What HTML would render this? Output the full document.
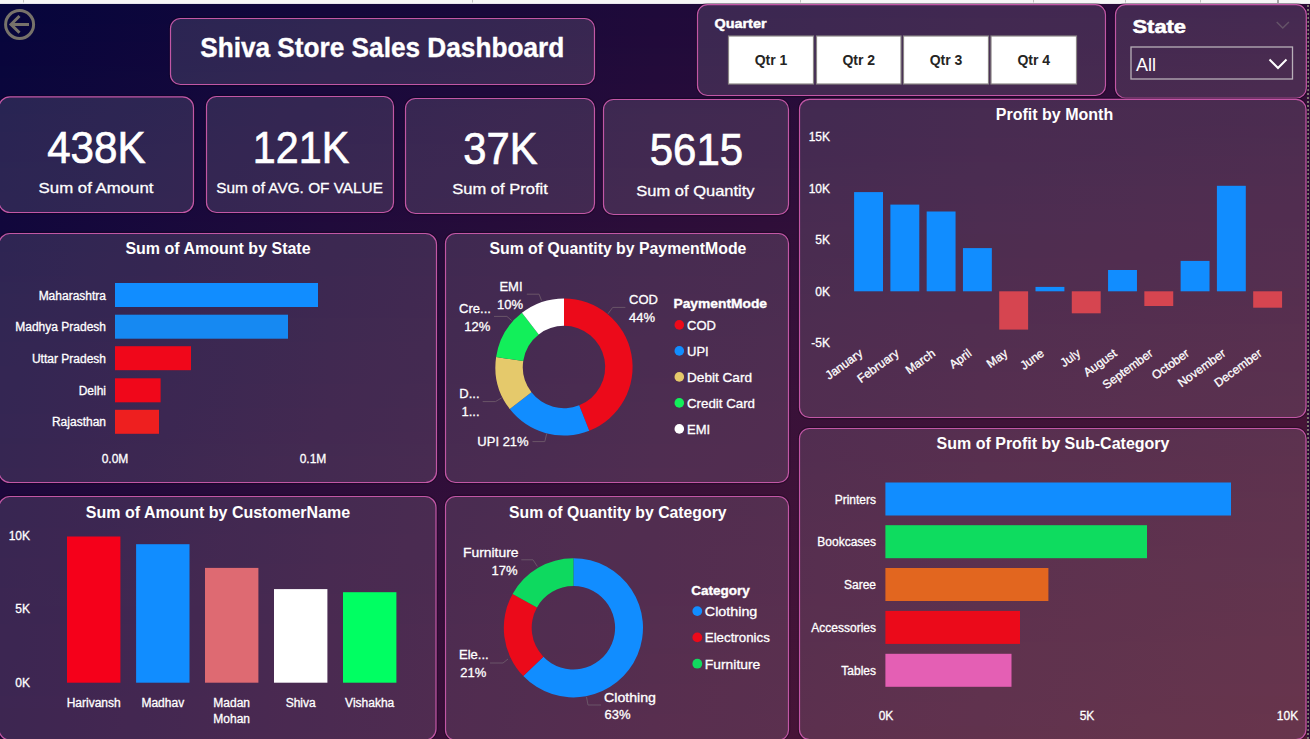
<!DOCTYPE html><html><head><meta charset="utf-8"><style>
html,body{margin:0;padding:0;width:1310px;height:739px;overflow:hidden;background:#1a0838;}
svg{display:block;font-family:"Liberation Sans", sans-serif;}
</style></head><body>
<svg width="1310" height="739" viewBox="0 0 1310 739">
<defs>
<linearGradient id="b0" x1="0" y1="0" x2="1310" y2="0" gradientUnits="userSpaceOnUse"><stop offset="0.000" stop-color="#05053c"/><stop offset="0.250" stop-color="#13073b"/><stop offset="0.500" stop-color="#1e0a3a"/><stop offset="0.750" stop-color="#270b39"/><stop offset="1.000" stop-color="#2c0c39"/></linearGradient>
<linearGradient id="b1" x1="0" y1="0" x2="1310" y2="0" gradientUnits="userSpaceOnUse"><stop offset="0.000" stop-color="#06053c"/><stop offset="0.250" stop-color="#14083b"/><stop offset="0.500" stop-color="#1f0a3a"/><stop offset="0.750" stop-color="#270b39"/><stop offset="1.000" stop-color="#2c0c39"/></linearGradient>
<linearGradient id="b2" x1="0" y1="0" x2="1310" y2="0" gradientUnits="userSpaceOnUse"><stop offset="0.000" stop-color="#06053c"/><stop offset="0.250" stop-color="#14083b"/><stop offset="0.500" stop-color="#1f0a3a"/><stop offset="0.750" stop-color="#270b39"/><stop offset="1.000" stop-color="#2d0c39"/></linearGradient>
<linearGradient id="b3" x1="0" y1="0" x2="1310" y2="0" gradientUnits="userSpaceOnUse"><stop offset="0.000" stop-color="#06053c"/><stop offset="0.250" stop-color="#14083b"/><stop offset="0.500" stop-color="#200a3a"/><stop offset="0.750" stop-color="#280c39"/><stop offset="1.000" stop-color="#2d0d39"/></linearGradient>
<linearGradient id="b4" x1="0" y1="0" x2="1310" y2="0" gradientUnits="userSpaceOnUse"><stop offset="0.000" stop-color="#07053c"/><stop offset="0.250" stop-color="#15083b"/><stop offset="0.500" stop-color="#200a3a"/><stop offset="0.750" stop-color="#280c39"/><stop offset="1.000" stop-color="#2e0d39"/></linearGradient>
<linearGradient id="b5" x1="0" y1="0" x2="1310" y2="0" gradientUnits="userSpaceOnUse"><stop offset="0.000" stop-color="#07053c"/><stop offset="0.250" stop-color="#15083b"/><stop offset="0.500" stop-color="#200a3a"/><stop offset="0.750" stop-color="#290c39"/><stop offset="1.000" stop-color="#2e0d38"/></linearGradient>
<linearGradient id="b6" x1="0" y1="0" x2="1310" y2="0" gradientUnits="userSpaceOnUse"><stop offset="0.000" stop-color="#07053c"/><stop offset="0.250" stop-color="#15083b"/><stop offset="0.500" stop-color="#210a3a"/><stop offset="0.750" stop-color="#290c39"/><stop offset="1.000" stop-color="#2f0d38"/></linearGradient>
<linearGradient id="b7" x1="0" y1="0" x2="1310" y2="0" gradientUnits="userSpaceOnUse"><stop offset="0.000" stop-color="#08053c"/><stop offset="0.250" stop-color="#16083b"/><stop offset="0.500" stop-color="#210a3a"/><stop offset="0.750" stop-color="#290c39"/><stop offset="1.000" stop-color="#2f0d38"/></linearGradient>
<linearGradient id="b8" x1="0" y1="0" x2="1310" y2="0" gradientUnits="userSpaceOnUse"><stop offset="0.000" stop-color="#08053c"/><stop offset="0.250" stop-color="#16083b"/><stop offset="0.500" stop-color="#210b3a"/><stop offset="0.750" stop-color="#2a0c39"/><stop offset="1.000" stop-color="#2f0d38"/></linearGradient>
<linearGradient id="b9" x1="0" y1="0" x2="1310" y2="0" gradientUnits="userSpaceOnUse"><stop offset="0.000" stop-color="#08053c"/><stop offset="0.250" stop-color="#17083b"/><stop offset="0.500" stop-color="#220b3a"/><stop offset="0.750" stop-color="#2a0c39"/><stop offset="1.000" stop-color="#300e38"/></linearGradient>
<linearGradient id="b10" x1="0" y1="0" x2="1310" y2="0" gradientUnits="userSpaceOnUse"><stop offset="0.000" stop-color="#09053c"/><stop offset="0.250" stop-color="#17083b"/><stop offset="0.500" stop-color="#220b3a"/><stop offset="0.750" stop-color="#2b0c39"/><stop offset="1.000" stop-color="#300e38"/></linearGradient>
<linearGradient id="b11" x1="0" y1="0" x2="1310" y2="0" gradientUnits="userSpaceOnUse"><stop offset="0.000" stop-color="#09063c"/><stop offset="0.250" stop-color="#17083b"/><stop offset="0.500" stop-color="#230b3a"/><stop offset="0.750" stop-color="#2b0d39"/><stop offset="1.000" stop-color="#310e38"/></linearGradient>
<linearGradient id="b12" x1="0" y1="0" x2="1310" y2="0" gradientUnits="userSpaceOnUse"><stop offset="0.000" stop-color="#09063c"/><stop offset="0.250" stop-color="#18093b"/><stop offset="0.500" stop-color="#230b3a"/><stop offset="0.750" stop-color="#2b0d39"/><stop offset="1.000" stop-color="#310e38"/></linearGradient>
<linearGradient id="b13" x1="0" y1="0" x2="1310" y2="0" gradientUnits="userSpaceOnUse"><stop offset="0.000" stop-color="#0a063c"/><stop offset="0.250" stop-color="#18093b"/><stop offset="0.500" stop-color="#230b3a"/><stop offset="0.750" stop-color="#2c0d39"/><stop offset="1.000" stop-color="#310e38"/></linearGradient>
<linearGradient id="b14" x1="0" y1="0" x2="1310" y2="0" gradientUnits="userSpaceOnUse"><stop offset="0.000" stop-color="#0a063c"/><stop offset="0.250" stop-color="#18093b"/><stop offset="0.500" stop-color="#240b3a"/><stop offset="0.750" stop-color="#2c0d39"/><stop offset="1.000" stop-color="#320e38"/></linearGradient>
<linearGradient id="b15" x1="0" y1="0" x2="1310" y2="0" gradientUnits="userSpaceOnUse"><stop offset="0.000" stop-color="#0a063c"/><stop offset="0.250" stop-color="#19093b"/><stop offset="0.500" stop-color="#240b3a"/><stop offset="0.750" stop-color="#2d0d39"/><stop offset="1.000" stop-color="#320e38"/></linearGradient>
<linearGradient id="b16" x1="0" y1="0" x2="1310" y2="0" gradientUnits="userSpaceOnUse"><stop offset="0.000" stop-color="#0b063c"/><stop offset="0.250" stop-color="#19093b"/><stop offset="0.500" stop-color="#240b3a"/><stop offset="0.750" stop-color="#2d0d39"/><stop offset="1.000" stop-color="#330f38"/></linearGradient>
<linearGradient id="b17" x1="0" y1="0" x2="1310" y2="0" gradientUnits="userSpaceOnUse"><stop offset="0.000" stop-color="#0b063c"/><stop offset="0.250" stop-color="#19093b"/><stop offset="0.500" stop-color="#250b3a"/><stop offset="0.750" stop-color="#2d0d39"/><stop offset="1.000" stop-color="#330f38"/></linearGradient>
<linearGradient id="b18" x1="0" y1="0" x2="1310" y2="0" gradientUnits="userSpaceOnUse"><stop offset="0.000" stop-color="#0b063c"/><stop offset="0.250" stop-color="#1a093b"/><stop offset="0.500" stop-color="#250c3a"/><stop offset="0.750" stop-color="#2e0e39"/><stop offset="1.000" stop-color="#340f38"/></linearGradient>
<linearGradient id="b19" x1="0" y1="0" x2="1310" y2="0" gradientUnits="userSpaceOnUse"><stop offset="0.000" stop-color="#0c063c"/><stop offset="0.250" stop-color="#1a093b"/><stop offset="0.500" stop-color="#260c3a"/><stop offset="0.750" stop-color="#2e0e39"/><stop offset="1.000" stop-color="#340f38"/></linearGradient>
<linearGradient id="b20" x1="0" y1="0" x2="1310" y2="0" gradientUnits="userSpaceOnUse"><stop offset="0.000" stop-color="#0c063c"/><stop offset="0.250" stop-color="#1a093b"/><stop offset="0.500" stop-color="#260c3a"/><stop offset="0.750" stop-color="#2f0e39"/><stop offset="1.000" stop-color="#340f38"/></linearGradient>
<linearGradient id="b21" x1="0" y1="0" x2="1310" y2="0" gradientUnits="userSpaceOnUse"><stop offset="0.000" stop-color="#0c063c"/><stop offset="0.250" stop-color="#1b093b"/><stop offset="0.500" stop-color="#260c3a"/><stop offset="0.750" stop-color="#2f0e39"/><stop offset="1.000" stop-color="#350f38"/></linearGradient>
<linearGradient id="b22" x1="0" y1="0" x2="1310" y2="0" gradientUnits="userSpaceOnUse"><stop offset="0.000" stop-color="#0d063c"/><stop offset="0.250" stop-color="#1b093b"/><stop offset="0.500" stop-color="#270c3a"/><stop offset="0.750" stop-color="#2f0e39"/><stop offset="1.000" stop-color="#350f38"/></linearGradient>
<linearGradient id="b23" x1="0" y1="0" x2="1310" y2="0" gradientUnits="userSpaceOnUse"><stop offset="0.000" stop-color="#0d063c"/><stop offset="0.250" stop-color="#1b093b"/><stop offset="0.500" stop-color="#270c3a"/><stop offset="0.750" stop-color="#300e39"/><stop offset="1.000" stop-color="#351038"/></linearGradient>
<linearGradient id="b24" x1="0" y1="0" x2="1310" y2="0" gradientUnits="userSpaceOnUse"><stop offset="0.000" stop-color="#0d063c"/><stop offset="0.250" stop-color="#1c0a3b"/><stop offset="0.500" stop-color="#270c3a"/><stop offset="0.750" stop-color="#300e39"/><stop offset="1.000" stop-color="#361038"/></linearGradient>
<linearGradient id="b25" x1="0" y1="0" x2="1310" y2="0" gradientUnits="userSpaceOnUse"><stop offset="0.000" stop-color="#0e063c"/><stop offset="0.250" stop-color="#1c0a3b"/><stop offset="0.500" stop-color="#280c3a"/><stop offset="0.750" stop-color="#300e39"/><stop offset="1.000" stop-color="#361038"/></linearGradient>
<linearGradient id="b26" x1="0" y1="0" x2="1310" y2="0" gradientUnits="userSpaceOnUse"><stop offset="0.000" stop-color="#0e063c"/><stop offset="0.250" stop-color="#1c0a3b"/><stop offset="0.500" stop-color="#280c3a"/><stop offset="0.750" stop-color="#310e39"/><stop offset="1.000" stop-color="#371038"/></linearGradient>
<linearGradient id="b27" x1="0" y1="0" x2="1310" y2="0" gradientUnits="userSpaceOnUse"><stop offset="0.000" stop-color="#0e073c"/><stop offset="0.250" stop-color="#1d0a3b"/><stop offset="0.500" stop-color="#280c3a"/><stop offset="0.750" stop-color="#310f39"/><stop offset="1.000" stop-color="#371038"/></linearGradient>
<linearGradient id="b28" x1="0" y1="0" x2="1310" y2="0" gradientUnits="userSpaceOnUse"><stop offset="0.000" stop-color="#0f073c"/><stop offset="0.250" stop-color="#1d0a3b"/><stop offset="0.500" stop-color="#290d3a"/><stop offset="0.750" stop-color="#310f39"/><stop offset="1.000" stop-color="#371038"/></linearGradient>
<linearGradient id="b29" x1="0" y1="0" x2="1310" y2="0" gradientUnits="userSpaceOnUse"><stop offset="0.000" stop-color="#0f073c"/><stop offset="0.250" stop-color="#1d0a3b"/><stop offset="0.500" stop-color="#290d3a"/><stop offset="0.750" stop-color="#320f39"/><stop offset="1.000" stop-color="#381038"/></linearGradient>
<linearGradient id="b30" x1="0" y1="0" x2="1310" y2="0" gradientUnits="userSpaceOnUse"><stop offset="0.000" stop-color="#0f073c"/><stop offset="0.250" stop-color="#1e0a3b"/><stop offset="0.500" stop-color="#290d3a"/><stop offset="0.750" stop-color="#320f39"/><stop offset="1.000" stop-color="#381138"/></linearGradient>
<linearGradient id="b31" x1="0" y1="0" x2="1310" y2="0" gradientUnits="userSpaceOnUse"><stop offset="0.000" stop-color="#0f073c"/><stop offset="0.250" stop-color="#1e0a3b"/><stop offset="0.500" stop-color="#2a0d3a"/><stop offset="0.750" stop-color="#330f39"/><stop offset="1.000" stop-color="#391138"/></linearGradient>
<linearGradient id="b32" x1="0" y1="0" x2="1310" y2="0" gradientUnits="userSpaceOnUse"><stop offset="0.000" stop-color="#10073c"/><stop offset="0.250" stop-color="#1e0a3b"/><stop offset="0.500" stop-color="#2a0d3a"/><stop offset="0.750" stop-color="#330f39"/><stop offset="1.000" stop-color="#391138"/></linearGradient>
<linearGradient id="b33" x1="0" y1="0" x2="1310" y2="0" gradientUnits="userSpaceOnUse"><stop offset="0.000" stop-color="#10073c"/><stop offset="0.250" stop-color="#1f0a3b"/><stop offset="0.500" stop-color="#2a0d39"/><stop offset="0.750" stop-color="#330f39"/><stop offset="1.000" stop-color="#391138"/></linearGradient>
<linearGradient id="b34" x1="0" y1="0" x2="1310" y2="0" gradientUnits="userSpaceOnUse"><stop offset="0.000" stop-color="#10073c"/><stop offset="0.250" stop-color="#1f0a3b"/><stop offset="0.500" stop-color="#2b0d39"/><stop offset="0.750" stop-color="#340f39"/><stop offset="1.000" stop-color="#3a1138"/></linearGradient>
<linearGradient id="b35" x1="0" y1="0" x2="1310" y2="0" gradientUnits="userSpaceOnUse"><stop offset="0.000" stop-color="#11073c"/><stop offset="0.250" stop-color="#1f0a3b"/><stop offset="0.500" stop-color="#2b0d39"/><stop offset="0.750" stop-color="#341039"/><stop offset="1.000" stop-color="#3a1138"/></linearGradient>
<linearGradient id="b36" x1="0" y1="0" x2="1310" y2="0" gradientUnits="userSpaceOnUse"><stop offset="0.000" stop-color="#11073c"/><stop offset="0.250" stop-color="#200a3b"/><stop offset="0.500" stop-color="#2b0d39"/><stop offset="0.750" stop-color="#341039"/><stop offset="1.000" stop-color="#3a1138"/></linearGradient>
<linearGradient id="b37" x1="0" y1="0" x2="1310" y2="0" gradientUnits="userSpaceOnUse"><stop offset="0.000" stop-color="#11073c"/><stop offset="0.250" stop-color="#200b3b"/><stop offset="0.500" stop-color="#2c0d39"/><stop offset="0.750" stop-color="#351039"/><stop offset="1.000" stop-color="#3b1138"/></linearGradient>
<linearGradient id="b38" x1="0" y1="0" x2="1310" y2="0" gradientUnits="userSpaceOnUse"><stop offset="0.000" stop-color="#11073c"/><stop offset="0.250" stop-color="#200b3b"/><stop offset="0.500" stop-color="#2c0e39"/><stop offset="0.750" stop-color="#351039"/><stop offset="1.000" stop-color="#3b1238"/></linearGradient>
<linearGradient id="b39" x1="0" y1="0" x2="1310" y2="0" gradientUnits="userSpaceOnUse"><stop offset="0.000" stop-color="#12073c"/><stop offset="0.250" stop-color="#200b3a"/><stop offset="0.500" stop-color="#2c0e39"/><stop offset="0.750" stop-color="#351038"/><stop offset="1.000" stop-color="#3b1238"/></linearGradient>
<linearGradient id="b40" x1="0" y1="0" x2="1310" y2="0" gradientUnits="userSpaceOnUse"><stop offset="0.000" stop-color="#12073c"/><stop offset="0.250" stop-color="#210b3a"/><stop offset="0.500" stop-color="#2d0e39"/><stop offset="0.750" stop-color="#361038"/><stop offset="1.000" stop-color="#3c1238"/></linearGradient>
<linearGradient id="b41" x1="0" y1="0" x2="1310" y2="0" gradientUnits="userSpaceOnUse"><stop offset="0.000" stop-color="#12073c"/><stop offset="0.250" stop-color="#210b3a"/><stop offset="0.500" stop-color="#2d0e39"/><stop offset="0.750" stop-color="#361038"/><stop offset="1.000" stop-color="#3c1238"/></linearGradient>
<linearGradient id="b42" x1="0" y1="0" x2="1310" y2="0" gradientUnits="userSpaceOnUse"><stop offset="0.000" stop-color="#13073c"/><stop offset="0.250" stop-color="#210b3a"/><stop offset="0.500" stop-color="#2d0e39"/><stop offset="0.750" stop-color="#361038"/><stop offset="1.000" stop-color="#3d1238"/></linearGradient>
<linearGradient id="b43" x1="0" y1="0" x2="1310" y2="0" gradientUnits="userSpaceOnUse"><stop offset="0.000" stop-color="#13073c"/><stop offset="0.250" stop-color="#220b3a"/><stop offset="0.500" stop-color="#2e0e39"/><stop offset="0.750" stop-color="#371038"/><stop offset="1.000" stop-color="#3d1238"/></linearGradient>
<linearGradient id="b44" x1="0" y1="0" x2="1310" y2="0" gradientUnits="userSpaceOnUse"><stop offset="0.000" stop-color="#13073c"/><stop offset="0.250" stop-color="#220b3a"/><stop offset="0.500" stop-color="#2e0e39"/><stop offset="0.750" stop-color="#371138"/><stop offset="1.000" stop-color="#3d1238"/></linearGradient>
<linearGradient id="b45" x1="0" y1="0" x2="1310" y2="0" gradientUnits="userSpaceOnUse"><stop offset="0.000" stop-color="#13073c"/><stop offset="0.250" stop-color="#220b3a"/><stop offset="0.500" stop-color="#2e0e39"/><stop offset="0.750" stop-color="#371138"/><stop offset="1.000" stop-color="#3e1338"/></linearGradient>
<linearGradient id="b46" x1="0" y1="0" x2="1310" y2="0" gradientUnits="userSpaceOnUse"><stop offset="0.000" stop-color="#14073c"/><stop offset="0.250" stop-color="#230b3a"/><stop offset="0.500" stop-color="#2f0e39"/><stop offset="0.750" stop-color="#381138"/><stop offset="1.000" stop-color="#3e1338"/></linearGradient>
<linearGradient id="b47" x1="0" y1="0" x2="1310" y2="0" gradientUnits="userSpaceOnUse"><stop offset="0.000" stop-color="#14083c"/><stop offset="0.250" stop-color="#230b3a"/><stop offset="0.500" stop-color="#2f0e39"/><stop offset="0.750" stop-color="#381138"/><stop offset="1.000" stop-color="#3e1338"/></linearGradient>
<linearGradient id="b48" x1="0" y1="0" x2="1310" y2="0" gradientUnits="userSpaceOnUse"><stop offset="0.000" stop-color="#14083c"/><stop offset="0.250" stop-color="#230b3a"/><stop offset="0.500" stop-color="#2f0e39"/><stop offset="0.750" stop-color="#381138"/><stop offset="1.000" stop-color="#3f1337"/></linearGradient>
<linearGradient id="b49" x1="0" y1="0" x2="1310" y2="0" gradientUnits="userSpaceOnUse"><stop offset="0.000" stop-color="#15083c"/><stop offset="0.250" stop-color="#230b3a"/><stop offset="0.500" stop-color="#300e39"/><stop offset="0.750" stop-color="#391138"/><stop offset="1.000" stop-color="#3f1337"/></linearGradient>
<linearGradient id="b50" x1="0" y1="0" x2="1310" y2="0" gradientUnits="userSpaceOnUse"><stop offset="0.000" stop-color="#15083c"/><stop offset="0.250" stop-color="#240b3a"/><stop offset="0.500" stop-color="#300f39"/><stop offset="0.750" stop-color="#391138"/><stop offset="1.000" stop-color="#3f1337"/></linearGradient>
<linearGradient id="b51" x1="0" y1="0" x2="1310" y2="0" gradientUnits="userSpaceOnUse"><stop offset="0.000" stop-color="#15083c"/><stop offset="0.250" stop-color="#240b3a"/><stop offset="0.500" stop-color="#300f39"/><stop offset="0.750" stop-color="#391138"/><stop offset="1.000" stop-color="#401337"/></linearGradient>
<linearGradient id="b52" x1="0" y1="0" x2="1310" y2="0" gradientUnits="userSpaceOnUse"><stop offset="0.000" stop-color="#15083c"/><stop offset="0.250" stop-color="#240b3a"/><stop offset="0.500" stop-color="#300f39"/><stop offset="0.750" stop-color="#3a1138"/><stop offset="1.000" stop-color="#401337"/></linearGradient>
<linearGradient id="b53" x1="0" y1="0" x2="1310" y2="0" gradientUnits="userSpaceOnUse"><stop offset="0.000" stop-color="#16083c"/><stop offset="0.250" stop-color="#250c3a"/><stop offset="0.500" stop-color="#310f39"/><stop offset="0.750" stop-color="#3a1138"/><stop offset="1.000" stop-color="#401337"/></linearGradient>
<linearGradient id="b54" x1="0" y1="0" x2="1310" y2="0" gradientUnits="userSpaceOnUse"><stop offset="0.000" stop-color="#16083c"/><stop offset="0.250" stop-color="#250c3a"/><stop offset="0.500" stop-color="#310f39"/><stop offset="0.750" stop-color="#3a1238"/><stop offset="1.000" stop-color="#411437"/></linearGradient>
<linearGradient id="b55" x1="0" y1="0" x2="1310" y2="0" gradientUnits="userSpaceOnUse"><stop offset="0.000" stop-color="#16083c"/><stop offset="0.250" stop-color="#250c3a"/><stop offset="0.500" stop-color="#310f39"/><stop offset="0.750" stop-color="#3b1238"/><stop offset="1.000" stop-color="#411437"/></linearGradient>
<linearGradient id="b56" x1="0" y1="0" x2="1310" y2="0" gradientUnits="userSpaceOnUse"><stop offset="0.000" stop-color="#16083c"/><stop offset="0.250" stop-color="#250c3a"/><stop offset="0.500" stop-color="#320f39"/><stop offset="0.750" stop-color="#3b1238"/><stop offset="1.000" stop-color="#411437"/></linearGradient>
<linearGradient id="b57" x1="0" y1="0" x2="1310" y2="0" gradientUnits="userSpaceOnUse"><stop offset="0.000" stop-color="#17083c"/><stop offset="0.250" stop-color="#260c3a"/><stop offset="0.500" stop-color="#320f39"/><stop offset="0.750" stop-color="#3b1238"/><stop offset="1.000" stop-color="#421437"/></linearGradient>
<linearGradient id="b58" x1="0" y1="0" x2="1310" y2="0" gradientUnits="userSpaceOnUse"><stop offset="0.000" stop-color="#17083c"/><stop offset="0.250" stop-color="#260c3a"/><stop offset="0.500" stop-color="#320f39"/><stop offset="0.750" stop-color="#3c1238"/><stop offset="1.000" stop-color="#421437"/></linearGradient>
<linearGradient id="b59" x1="0" y1="0" x2="1310" y2="0" gradientUnits="userSpaceOnUse"><stop offset="0.000" stop-color="#17083c"/><stop offset="0.250" stop-color="#260c3a"/><stop offset="0.500" stop-color="#320f39"/><stop offset="0.750" stop-color="#3c1238"/><stop offset="1.000" stop-color="#421437"/></linearGradient>
<linearGradient id="b60" x1="0" y1="0" x2="1310" y2="0" gradientUnits="userSpaceOnUse"><stop offset="0.000" stop-color="#17083c"/><stop offset="0.250" stop-color="#270c3a"/><stop offset="0.500" stop-color="#330f39"/><stop offset="0.750" stop-color="#3c1238"/><stop offset="1.000" stop-color="#431437"/></linearGradient>
<linearGradient id="b61" x1="0" y1="0" x2="1310" y2="0" gradientUnits="userSpaceOnUse"><stop offset="0.000" stop-color="#18083c"/><stop offset="0.250" stop-color="#270c3a"/><stop offset="0.500" stop-color="#330f39"/><stop offset="0.750" stop-color="#3c1238"/><stop offset="1.000" stop-color="#431437"/></linearGradient>
<linearGradient id="b62" x1="0" y1="0" x2="1310" y2="0" gradientUnits="userSpaceOnUse"><stop offset="0.000" stop-color="#18083c"/><stop offset="0.250" stop-color="#270c3a"/><stop offset="0.500" stop-color="#330f39"/><stop offset="0.750" stop-color="#3d1238"/><stop offset="1.000" stop-color="#431537"/></linearGradient>
<linearGradient id="b63" x1="0" y1="0" x2="1310" y2="0" gradientUnits="userSpaceOnUse"><stop offset="0.000" stop-color="#18083c"/><stop offset="0.250" stop-color="#270c3a"/><stop offset="0.500" stop-color="#340f39"/><stop offset="0.750" stop-color="#3d1238"/><stop offset="1.000" stop-color="#441537"/></linearGradient>
<linearGradient id="b64" x1="0" y1="0" x2="1310" y2="0" gradientUnits="userSpaceOnUse"><stop offset="0.000" stop-color="#18083c"/><stop offset="0.250" stop-color="#280c3a"/><stop offset="0.500" stop-color="#341039"/><stop offset="0.750" stop-color="#3d1238"/><stop offset="1.000" stop-color="#441537"/></linearGradient>
<linearGradient id="b65" x1="0" y1="0" x2="1310" y2="0" gradientUnits="userSpaceOnUse"><stop offset="0.000" stop-color="#19083c"/><stop offset="0.250" stop-color="#280c3a"/><stop offset="0.500" stop-color="#341039"/><stop offset="0.750" stop-color="#3e1338"/><stop offset="1.000" stop-color="#441537"/></linearGradient>
<linearGradient id="b66" x1="0" y1="0" x2="1310" y2="0" gradientUnits="userSpaceOnUse"><stop offset="0.000" stop-color="#19083c"/><stop offset="0.250" stop-color="#280c3a"/><stop offset="0.500" stop-color="#341039"/><stop offset="0.750" stop-color="#3e1338"/><stop offset="1.000" stop-color="#451537"/></linearGradient>
<linearGradient id="b67" x1="0" y1="0" x2="1310" y2="0" gradientUnits="userSpaceOnUse"><stop offset="0.000" stop-color="#19083c"/><stop offset="0.250" stop-color="#280c3a"/><stop offset="0.500" stop-color="#351039"/><stop offset="0.750" stop-color="#3e1338"/><stop offset="1.000" stop-color="#451537"/></linearGradient>
<linearGradient id="b68" x1="0" y1="0" x2="1310" y2="0" gradientUnits="userSpaceOnUse"><stop offset="0.000" stop-color="#19083c"/><stop offset="0.250" stop-color="#290c3a"/><stop offset="0.500" stop-color="#351039"/><stop offset="0.750" stop-color="#3f1338"/><stop offset="1.000" stop-color="#451537"/></linearGradient>
<linearGradient id="b69" x1="0" y1="0" x2="1310" y2="0" gradientUnits="userSpaceOnUse"><stop offset="0.000" stop-color="#1a083c"/><stop offset="0.250" stop-color="#290c3a"/><stop offset="0.500" stop-color="#351039"/><stop offset="0.750" stop-color="#3f1338"/><stop offset="1.000" stop-color="#461537"/></linearGradient>
<linearGradient id="b70" x1="0" y1="0" x2="1310" y2="0" gradientUnits="userSpaceOnUse"><stop offset="0.000" stop-color="#1a083c"/><stop offset="0.250" stop-color="#290c3a"/><stop offset="0.500" stop-color="#361039"/><stop offset="0.750" stop-color="#3f1338"/><stop offset="1.000" stop-color="#461537"/></linearGradient>
<linearGradient id="b71" x1="0" y1="0" x2="1310" y2="0" gradientUnits="userSpaceOnUse"><stop offset="0.000" stop-color="#1a083c"/><stop offset="0.250" stop-color="#290c3a"/><stop offset="0.500" stop-color="#361039"/><stop offset="0.750" stop-color="#3f1338"/><stop offset="1.000" stop-color="#461537"/></linearGradient>
<linearGradient id="b72" x1="0" y1="0" x2="1310" y2="0" gradientUnits="userSpaceOnUse"><stop offset="0.000" stop-color="#1a083c"/><stop offset="0.250" stop-color="#2a0c3a"/><stop offset="0.500" stop-color="#361039"/><stop offset="0.750" stop-color="#401338"/><stop offset="1.000" stop-color="#461637"/></linearGradient>
<linearGradient id="b73" x1="0" y1="0" x2="1310" y2="0" gradientUnits="userSpaceOnUse"><stop offset="0.000" stop-color="#1a083b"/><stop offset="0.250" stop-color="#2a0c3a"/><stop offset="0.500" stop-color="#361039"/><stop offset="0.750" stop-color="#401338"/><stop offset="1.000" stop-color="#471637"/></linearGradient>
<linearGradient id="b74" x1="0" y1="0" x2="1310" y2="0" gradientUnits="userSpaceOnUse"><stop offset="0.000" stop-color="#1b083b"/><stop offset="0.250" stop-color="#2a0d3a"/><stop offset="0.500" stop-color="#371039"/><stop offset="0.750" stop-color="#401338"/><stop offset="1.000" stop-color="#471637"/></linearGradient>
<linearGradient id="b75" x1="0" y1="0" x2="1310" y2="0" gradientUnits="userSpaceOnUse"><stop offset="0.000" stop-color="#1b083b"/><stop offset="0.250" stop-color="#2a0d3a"/><stop offset="0.500" stop-color="#371039"/><stop offset="0.750" stop-color="#411337"/><stop offset="1.000" stop-color="#471636"/></linearGradient>
<linearGradient id="b76" x1="0" y1="0" x2="1310" y2="0" gradientUnits="userSpaceOnUse"><stop offset="0.000" stop-color="#1b083b"/><stop offset="0.250" stop-color="#2b0d3a"/><stop offset="0.500" stop-color="#371039"/><stop offset="0.750" stop-color="#411337"/><stop offset="1.000" stop-color="#481636"/></linearGradient>
<linearGradient id="b77" x1="0" y1="0" x2="1310" y2="0" gradientUnits="userSpaceOnUse"><stop offset="0.000" stop-color="#1b083b"/><stop offset="0.250" stop-color="#2b0d3a"/><stop offset="0.500" stop-color="#371039"/><stop offset="0.750" stop-color="#411437"/><stop offset="1.000" stop-color="#481636"/></linearGradient>
<linearGradient id="b78" x1="0" y1="0" x2="1310" y2="0" gradientUnits="userSpaceOnUse"><stop offset="0.000" stop-color="#1c083b"/><stop offset="0.250" stop-color="#2b0d3a"/><stop offset="0.500" stop-color="#381039"/><stop offset="0.750" stop-color="#411437"/><stop offset="1.000" stop-color="#481636"/></linearGradient>
<linearGradient id="b79" x1="0" y1="0" x2="1310" y2="0" gradientUnits="userSpaceOnUse"><stop offset="0.000" stop-color="#1c083b"/><stop offset="0.250" stop-color="#2b0d3a"/><stop offset="0.500" stop-color="#381039"/><stop offset="0.750" stop-color="#421437"/><stop offset="1.000" stop-color="#491636"/></linearGradient>
<linearGradient id="b80" x1="0" y1="0" x2="1310" y2="0" gradientUnits="userSpaceOnUse"><stop offset="0.000" stop-color="#1c083b"/><stop offset="0.250" stop-color="#2c0d3a"/><stop offset="0.500" stop-color="#381138"/><stop offset="0.750" stop-color="#421437"/><stop offset="1.000" stop-color="#491636"/></linearGradient>
<linearGradient id="b81" x1="0" y1="0" x2="1310" y2="0" gradientUnits="userSpaceOnUse"><stop offset="0.000" stop-color="#1c083b"/><stop offset="0.250" stop-color="#2c0d3a"/><stop offset="0.500" stop-color="#381138"/><stop offset="0.750" stop-color="#421437"/><stop offset="1.000" stop-color="#491636"/></linearGradient>
<linearGradient id="b82" x1="0" y1="0" x2="1310" y2="0" gradientUnits="userSpaceOnUse"><stop offset="0.000" stop-color="#1c083b"/><stop offset="0.250" stop-color="#2c0d3a"/><stop offset="0.500" stop-color="#391138"/><stop offset="0.750" stop-color="#421437"/><stop offset="1.000" stop-color="#491736"/></linearGradient>
<linearGradient id="b83" x1="0" y1="0" x2="1310" y2="0" gradientUnits="userSpaceOnUse"><stop offset="0.000" stop-color="#1d083b"/><stop offset="0.250" stop-color="#2c0d3a"/><stop offset="0.500" stop-color="#391138"/><stop offset="0.750" stop-color="#431437"/><stop offset="1.000" stop-color="#4a1736"/></linearGradient>
<linearGradient id="b84" x1="0" y1="0" x2="1310" y2="0" gradientUnits="userSpaceOnUse"><stop offset="0.000" stop-color="#1d083b"/><stop offset="0.250" stop-color="#2c0d3a"/><stop offset="0.500" stop-color="#391138"/><stop offset="0.750" stop-color="#431437"/><stop offset="1.000" stop-color="#4a1736"/></linearGradient>
<linearGradient id="b85" x1="0" y1="0" x2="1310" y2="0" gradientUnits="userSpaceOnUse"><stop offset="0.000" stop-color="#1d083b"/><stop offset="0.250" stop-color="#2d0d3a"/><stop offset="0.500" stop-color="#391138"/><stop offset="0.750" stop-color="#431437"/><stop offset="1.000" stop-color="#4a1736"/></linearGradient>
<linearGradient id="b86" x1="0" y1="0" x2="1310" y2="0" gradientUnits="userSpaceOnUse"><stop offset="0.000" stop-color="#1d083b"/><stop offset="0.250" stop-color="#2d0d3a"/><stop offset="0.500" stop-color="#3a1138"/><stop offset="0.750" stop-color="#431437"/><stop offset="1.000" stop-color="#4a1736"/></linearGradient>
<linearGradient id="b87" x1="0" y1="0" x2="1310" y2="0" gradientUnits="userSpaceOnUse"><stop offset="0.000" stop-color="#1d083b"/><stop offset="0.250" stop-color="#2d0d3a"/><stop offset="0.500" stop-color="#3a1138"/><stop offset="0.750" stop-color="#441437"/><stop offset="1.000" stop-color="#4b1736"/></linearGradient>
<linearGradient id="b88" x1="0" y1="0" x2="1310" y2="0" gradientUnits="userSpaceOnUse"><stop offset="0.000" stop-color="#1e083b"/><stop offset="0.250" stop-color="#2d0d3a"/><stop offset="0.500" stop-color="#3a1138"/><stop offset="0.750" stop-color="#441437"/><stop offset="1.000" stop-color="#4b1736"/></linearGradient>
<linearGradient id="b89" x1="0" y1="0" x2="1310" y2="0" gradientUnits="userSpaceOnUse"><stop offset="0.000" stop-color="#1e083b"/><stop offset="0.250" stop-color="#2e0d3a"/><stop offset="0.500" stop-color="#3a1138"/><stop offset="0.750" stop-color="#441437"/><stop offset="1.000" stop-color="#4b1736"/></linearGradient>
<linearGradient id="b90" x1="0" y1="0" x2="1310" y2="0" gradientUnits="userSpaceOnUse"><stop offset="0.000" stop-color="#1e083b"/><stop offset="0.250" stop-color="#2e0d3a"/><stop offset="0.500" stop-color="#3b1138"/><stop offset="0.750" stop-color="#441437"/><stop offset="1.000" stop-color="#4c1736"/></linearGradient>
<linearGradient id="b91" x1="0" y1="0" x2="1310" y2="0" gradientUnits="userSpaceOnUse"><stop offset="0.000" stop-color="#1e083b"/><stop offset="0.250" stop-color="#2e0d3a"/><stop offset="0.500" stop-color="#3b1138"/><stop offset="0.750" stop-color="#451537"/><stop offset="1.000" stop-color="#4c1736"/></linearGradient>
<linearGradient id="b92" x1="0" y1="0" x2="1310" y2="0" gradientUnits="userSpaceOnUse"><stop offset="0.000" stop-color="#1e083b"/><stop offset="0.250" stop-color="#2e0d3a"/><stop offset="0.500" stop-color="#3b1138"/><stop offset="0.750" stop-color="#451537"/><stop offset="1.000" stop-color="#4c1736"/></linearGradient>
<linearGradient id="b93" x1="0" y1="0" x2="1310" y2="0" gradientUnits="userSpaceOnUse"><stop offset="0.000" stop-color="#1f083b"/><stop offset="0.250" stop-color="#2e0d3a"/><stop offset="0.500" stop-color="#3b1138"/><stop offset="0.750" stop-color="#451537"/><stop offset="1.000" stop-color="#4c1836"/></linearGradient>
<linearGradient id="b94" x1="0" y1="0" x2="1310" y2="0" gradientUnits="userSpaceOnUse"><stop offset="0.000" stop-color="#1f083b"/><stop offset="0.250" stop-color="#2f0d39"/><stop offset="0.500" stop-color="#3b1138"/><stop offset="0.750" stop-color="#451537"/><stop offset="1.000" stop-color="#4d1836"/></linearGradient>
<linearGradient id="b95" x1="0" y1="0" x2="1310" y2="0" gradientUnits="userSpaceOnUse"><stop offset="0.000" stop-color="#1f093b"/><stop offset="0.250" stop-color="#2f0d39"/><stop offset="0.500" stop-color="#3c1138"/><stop offset="0.750" stop-color="#461537"/><stop offset="1.000" stop-color="#4d1836"/></linearGradient>
<linearGradient id="b96" x1="0" y1="0" x2="1310" y2="0" gradientUnits="userSpaceOnUse"><stop offset="0.000" stop-color="#1f093b"/><stop offset="0.250" stop-color="#2f0d39"/><stop offset="0.500" stop-color="#3c1138"/><stop offset="0.750" stop-color="#461537"/><stop offset="1.000" stop-color="#4d1836"/></linearGradient>
<linearGradient id="b97" x1="0" y1="0" x2="1310" y2="0" gradientUnits="userSpaceOnUse"><stop offset="0.000" stop-color="#1f093b"/><stop offset="0.250" stop-color="#2f0d39"/><stop offset="0.500" stop-color="#3c1138"/><stop offset="0.750" stop-color="#461537"/><stop offset="1.000" stop-color="#4d1835"/></linearGradient>
<linearGradient id="b98" x1="0" y1="0" x2="1310" y2="0" gradientUnits="userSpaceOnUse"><stop offset="0.000" stop-color="#20093b"/><stop offset="0.250" stop-color="#2f0d39"/><stop offset="0.500" stop-color="#3c1138"/><stop offset="0.750" stop-color="#461537"/><stop offset="1.000" stop-color="#4e1835"/></linearGradient>
<linearGradient id="b99" x1="0" y1="0" x2="1310" y2="0" gradientUnits="userSpaceOnUse"><stop offset="0.000" stop-color="#20093b"/><stop offset="0.250" stop-color="#300d39"/><stop offset="0.500" stop-color="#3d1138"/><stop offset="0.750" stop-color="#471537"/><stop offset="1.000" stop-color="#4e1835"/></linearGradient>
<linearGradient id="b100" x1="0" y1="0" x2="1310" y2="0" gradientUnits="userSpaceOnUse"><stop offset="0.000" stop-color="#20093b"/><stop offset="0.250" stop-color="#300d39"/><stop offset="0.500" stop-color="#3d1138"/><stop offset="0.750" stop-color="#471536"/><stop offset="1.000" stop-color="#4e1835"/></linearGradient>
<linearGradient id="b101" x1="0" y1="0" x2="1310" y2="0" gradientUnits="userSpaceOnUse"><stop offset="0.000" stop-color="#20083b"/><stop offset="0.250" stop-color="#300d39"/><stop offset="0.500" stop-color="#3d1238"/><stop offset="0.750" stop-color="#471536"/><stop offset="1.000" stop-color="#4e1835"/></linearGradient>
<linearGradient id="b102" x1="0" y1="0" x2="1310" y2="0" gradientUnits="userSpaceOnUse"><stop offset="0.000" stop-color="#20083b"/><stop offset="0.250" stop-color="#300d39"/><stop offset="0.500" stop-color="#3d1238"/><stop offset="0.750" stop-color="#471536"/><stop offset="1.000" stop-color="#4f1835"/></linearGradient>
<linearGradient id="b103" x1="0" y1="0" x2="1310" y2="0" gradientUnits="userSpaceOnUse"><stop offset="0.000" stop-color="#20083b"/><stop offset="0.250" stop-color="#300d39"/><stop offset="0.500" stop-color="#3d1238"/><stop offset="0.750" stop-color="#481536"/><stop offset="1.000" stop-color="#4f1835"/></linearGradient>
<linearGradient id="b104" x1="0" y1="0" x2="1310" y2="0" gradientUnits="userSpaceOnUse"><stop offset="0.000" stop-color="#21083b"/><stop offset="0.250" stop-color="#310d39"/><stop offset="0.500" stop-color="#3e1238"/><stop offset="0.750" stop-color="#481536"/><stop offset="1.000" stop-color="#4f1835"/></linearGradient>
<linearGradient id="b105" x1="0" y1="0" x2="1310" y2="0" gradientUnits="userSpaceOnUse"><stop offset="0.000" stop-color="#21083b"/><stop offset="0.250" stop-color="#310d39"/><stop offset="0.500" stop-color="#3e1238"/><stop offset="0.750" stop-color="#481536"/><stop offset="1.000" stop-color="#4f1935"/></linearGradient>
<linearGradient id="b106" x1="0" y1="0" x2="1310" y2="0" gradientUnits="userSpaceOnUse"><stop offset="0.000" stop-color="#21083b"/><stop offset="0.250" stop-color="#310d39"/><stop offset="0.500" stop-color="#3e1238"/><stop offset="0.750" stop-color="#481536"/><stop offset="1.000" stop-color="#501935"/></linearGradient>
<linearGradient id="b107" x1="0" y1="0" x2="1310" y2="0" gradientUnits="userSpaceOnUse"><stop offset="0.000" stop-color="#21083b"/><stop offset="0.250" stop-color="#310d39"/><stop offset="0.500" stop-color="#3e1238"/><stop offset="0.750" stop-color="#491636"/><stop offset="1.000" stop-color="#501935"/></linearGradient>
<linearGradient id="b108" x1="0" y1="0" x2="1310" y2="0" gradientUnits="userSpaceOnUse"><stop offset="0.000" stop-color="#21083b"/><stop offset="0.250" stop-color="#310d39"/><stop offset="0.500" stop-color="#3e1237"/><stop offset="0.750" stop-color="#491636"/><stop offset="1.000" stop-color="#501935"/></linearGradient>
<linearGradient id="b109" x1="0" y1="0" x2="1310" y2="0" gradientUnits="userSpaceOnUse"><stop offset="0.000" stop-color="#21083b"/><stop offset="0.250" stop-color="#310d39"/><stop offset="0.500" stop-color="#3f1237"/><stop offset="0.750" stop-color="#491636"/><stop offset="1.000" stop-color="#501935"/></linearGradient>
<linearGradient id="b110" x1="0" y1="0" x2="1310" y2="0" gradientUnits="userSpaceOnUse"><stop offset="0.000" stop-color="#22083b"/><stop offset="0.250" stop-color="#320d39"/><stop offset="0.500" stop-color="#3f1237"/><stop offset="0.750" stop-color="#491636"/><stop offset="1.000" stop-color="#511935"/></linearGradient>
<linearGradient id="b111" x1="0" y1="0" x2="1310" y2="0" gradientUnits="userSpaceOnUse"><stop offset="0.000" stop-color="#22083b"/><stop offset="0.250" stop-color="#320d39"/><stop offset="0.500" stop-color="#3f1237"/><stop offset="0.750" stop-color="#491636"/><stop offset="1.000" stop-color="#511935"/></linearGradient>
<linearGradient id="b112" x1="0" y1="0" x2="1310" y2="0" gradientUnits="userSpaceOnUse"><stop offset="0.000" stop-color="#22083b"/><stop offset="0.250" stop-color="#320d39"/><stop offset="0.500" stop-color="#3f1237"/><stop offset="0.750" stop-color="#4a1636"/><stop offset="1.000" stop-color="#511935"/></linearGradient>
<linearGradient id="b113" x1="0" y1="0" x2="1310" y2="0" gradientUnits="userSpaceOnUse"><stop offset="0.000" stop-color="#22083b"/><stop offset="0.250" stop-color="#320d39"/><stop offset="0.500" stop-color="#3f1237"/><stop offset="0.750" stop-color="#4a1636"/><stop offset="1.000" stop-color="#511935"/></linearGradient>
<linearGradient id="b114" x1="0" y1="0" x2="1310" y2="0" gradientUnits="userSpaceOnUse"><stop offset="0.000" stop-color="#22083b"/><stop offset="0.250" stop-color="#320d39"/><stop offset="0.500" stop-color="#401237"/><stop offset="0.750" stop-color="#4a1636"/><stop offset="1.000" stop-color="#521935"/></linearGradient>
<linearGradient id="b115" x1="0" y1="0" x2="1310" y2="0" gradientUnits="userSpaceOnUse"><stop offset="0.000" stop-color="#22083b"/><stop offset="0.250" stop-color="#330d39"/><stop offset="0.500" stop-color="#401237"/><stop offset="0.750" stop-color="#4a1636"/><stop offset="1.000" stop-color="#521935"/></linearGradient>
<linearGradient id="b116" x1="0" y1="0" x2="1310" y2="0" gradientUnits="userSpaceOnUse"><stop offset="0.000" stop-color="#23083b"/><stop offset="0.250" stop-color="#330d39"/><stop offset="0.500" stop-color="#401237"/><stop offset="0.750" stop-color="#4a1636"/><stop offset="1.000" stop-color="#521934"/></linearGradient>
<linearGradient id="b117" x1="0" y1="0" x2="1310" y2="0" gradientUnits="userSpaceOnUse"><stop offset="0.000" stop-color="#23083b"/><stop offset="0.250" stop-color="#330d39"/><stop offset="0.500" stop-color="#401237"/><stop offset="0.750" stop-color="#4b1636"/><stop offset="1.000" stop-color="#521934"/></linearGradient>
<linearGradient id="b118" x1="0" y1="0" x2="1310" y2="0" gradientUnits="userSpaceOnUse"><stop offset="0.000" stop-color="#23083a"/><stop offset="0.250" stop-color="#330d39"/><stop offset="0.500" stop-color="#401237"/><stop offset="0.750" stop-color="#4b1636"/><stop offset="1.000" stop-color="#521934"/></linearGradient>
<linearGradient id="b119" x1="0" y1="0" x2="1310" y2="0" gradientUnits="userSpaceOnUse"><stop offset="0.000" stop-color="#23083a"/><stop offset="0.250" stop-color="#330d39"/><stop offset="0.500" stop-color="#411237"/><stop offset="0.750" stop-color="#4b1636"/><stop offset="1.000" stop-color="#531a34"/></linearGradient>
<linearGradient id="b120" x1="0" y1="0" x2="1310" y2="0" gradientUnits="userSpaceOnUse"><stop offset="0.000" stop-color="#23083a"/><stop offset="0.250" stop-color="#330d39"/><stop offset="0.500" stop-color="#411237"/><stop offset="0.750" stop-color="#4b1636"/><stop offset="1.000" stop-color="#531a34"/></linearGradient>
<linearGradient id="b121" x1="0" y1="0" x2="1310" y2="0" gradientUnits="userSpaceOnUse"><stop offset="0.000" stop-color="#23083a"/><stop offset="0.250" stop-color="#330d39"/><stop offset="0.500" stop-color="#411237"/><stop offset="0.750" stop-color="#4b1635"/><stop offset="1.000" stop-color="#531a34"/></linearGradient>
<linearGradient id="b122" x1="0" y1="0" x2="1310" y2="0" gradientUnits="userSpaceOnUse"><stop offset="0.000" stop-color="#23083a"/><stop offset="0.250" stop-color="#340d39"/><stop offset="0.500" stop-color="#411237"/><stop offset="0.750" stop-color="#4c1635"/><stop offset="1.000" stop-color="#531a34"/></linearGradient>
<linearGradient id="b123" x1="0" y1="0" x2="1310" y2="0" gradientUnits="userSpaceOnUse"><stop offset="0.000" stop-color="#24083a"/><stop offset="0.250" stop-color="#340d38"/><stop offset="0.500" stop-color="#411237"/><stop offset="0.750" stop-color="#4c1635"/><stop offset="1.000" stop-color="#541a34"/></linearGradient>
</defs>
<rect x="0" y="0" width="1310" height="6" fill="url(#b0)"/>
<rect x="0" y="6" width="1310" height="6" fill="url(#b1)"/>
<rect x="0" y="12" width="1310" height="6" fill="url(#b2)"/>
<rect x="0" y="18" width="1310" height="6" fill="url(#b3)"/>
<rect x="0" y="24" width="1310" height="6" fill="url(#b4)"/>
<rect x="0" y="30" width="1310" height="6" fill="url(#b5)"/>
<rect x="0" y="36" width="1310" height="6" fill="url(#b6)"/>
<rect x="0" y="42" width="1310" height="6" fill="url(#b7)"/>
<rect x="0" y="48" width="1310" height="6" fill="url(#b8)"/>
<rect x="0" y="54" width="1310" height="6" fill="url(#b9)"/>
<rect x="0" y="60" width="1310" height="6" fill="url(#b10)"/>
<rect x="0" y="66" width="1310" height="6" fill="url(#b11)"/>
<rect x="0" y="72" width="1310" height="6" fill="url(#b12)"/>
<rect x="0" y="78" width="1310" height="6" fill="url(#b13)"/>
<rect x="0" y="84" width="1310" height="6" fill="url(#b14)"/>
<rect x="0" y="90" width="1310" height="6" fill="url(#b15)"/>
<rect x="0" y="96" width="1310" height="6" fill="url(#b16)"/>
<rect x="0" y="102" width="1310" height="6" fill="url(#b17)"/>
<rect x="0" y="108" width="1310" height="6" fill="url(#b18)"/>
<rect x="0" y="114" width="1310" height="6" fill="url(#b19)"/>
<rect x="0" y="120" width="1310" height="6" fill="url(#b20)"/>
<rect x="0" y="126" width="1310" height="6" fill="url(#b21)"/>
<rect x="0" y="132" width="1310" height="6" fill="url(#b22)"/>
<rect x="0" y="138" width="1310" height="6" fill="url(#b23)"/>
<rect x="0" y="144" width="1310" height="6" fill="url(#b24)"/>
<rect x="0" y="150" width="1310" height="6" fill="url(#b25)"/>
<rect x="0" y="156" width="1310" height="6" fill="url(#b26)"/>
<rect x="0" y="162" width="1310" height="6" fill="url(#b27)"/>
<rect x="0" y="168" width="1310" height="6" fill="url(#b28)"/>
<rect x="0" y="174" width="1310" height="6" fill="url(#b29)"/>
<rect x="0" y="180" width="1310" height="6" fill="url(#b30)"/>
<rect x="0" y="186" width="1310" height="6" fill="url(#b31)"/>
<rect x="0" y="192" width="1310" height="6" fill="url(#b32)"/>
<rect x="0" y="198" width="1310" height="6" fill="url(#b33)"/>
<rect x="0" y="204" width="1310" height="6" fill="url(#b34)"/>
<rect x="0" y="210" width="1310" height="6" fill="url(#b35)"/>
<rect x="0" y="216" width="1310" height="6" fill="url(#b36)"/>
<rect x="0" y="222" width="1310" height="6" fill="url(#b37)"/>
<rect x="0" y="228" width="1310" height="6" fill="url(#b38)"/>
<rect x="0" y="234" width="1310" height="6" fill="url(#b39)"/>
<rect x="0" y="240" width="1310" height="6" fill="url(#b40)"/>
<rect x="0" y="246" width="1310" height="6" fill="url(#b41)"/>
<rect x="0" y="252" width="1310" height="6" fill="url(#b42)"/>
<rect x="0" y="258" width="1310" height="6" fill="url(#b43)"/>
<rect x="0" y="264" width="1310" height="6" fill="url(#b44)"/>
<rect x="0" y="270" width="1310" height="6" fill="url(#b45)"/>
<rect x="0" y="276" width="1310" height="6" fill="url(#b46)"/>
<rect x="0" y="282" width="1310" height="6" fill="url(#b47)"/>
<rect x="0" y="288" width="1310" height="6" fill="url(#b48)"/>
<rect x="0" y="294" width="1310" height="6" fill="url(#b49)"/>
<rect x="0" y="300" width="1310" height="6" fill="url(#b50)"/>
<rect x="0" y="306" width="1310" height="6" fill="url(#b51)"/>
<rect x="0" y="312" width="1310" height="6" fill="url(#b52)"/>
<rect x="0" y="318" width="1310" height="6" fill="url(#b53)"/>
<rect x="0" y="324" width="1310" height="6" fill="url(#b54)"/>
<rect x="0" y="330" width="1310" height="6" fill="url(#b55)"/>
<rect x="0" y="336" width="1310" height="6" fill="url(#b56)"/>
<rect x="0" y="342" width="1310" height="6" fill="url(#b57)"/>
<rect x="0" y="348" width="1310" height="6" fill="url(#b58)"/>
<rect x="0" y="354" width="1310" height="6" fill="url(#b59)"/>
<rect x="0" y="360" width="1310" height="6" fill="url(#b60)"/>
<rect x="0" y="366" width="1310" height="6" fill="url(#b61)"/>
<rect x="0" y="372" width="1310" height="6" fill="url(#b62)"/>
<rect x="0" y="378" width="1310" height="6" fill="url(#b63)"/>
<rect x="0" y="384" width="1310" height="6" fill="url(#b64)"/>
<rect x="0" y="390" width="1310" height="6" fill="url(#b65)"/>
<rect x="0" y="396" width="1310" height="6" fill="url(#b66)"/>
<rect x="0" y="402" width="1310" height="6" fill="url(#b67)"/>
<rect x="0" y="408" width="1310" height="6" fill="url(#b68)"/>
<rect x="0" y="414" width="1310" height="6" fill="url(#b69)"/>
<rect x="0" y="420" width="1310" height="6" fill="url(#b70)"/>
<rect x="0" y="426" width="1310" height="6" fill="url(#b71)"/>
<rect x="0" y="432" width="1310" height="6" fill="url(#b72)"/>
<rect x="0" y="438" width="1310" height="6" fill="url(#b73)"/>
<rect x="0" y="444" width="1310" height="6" fill="url(#b74)"/>
<rect x="0" y="450" width="1310" height="6" fill="url(#b75)"/>
<rect x="0" y="456" width="1310" height="6" fill="url(#b76)"/>
<rect x="0" y="462" width="1310" height="6" fill="url(#b77)"/>
<rect x="0" y="468" width="1310" height="6" fill="url(#b78)"/>
<rect x="0" y="474" width="1310" height="6" fill="url(#b79)"/>
<rect x="0" y="480" width="1310" height="6" fill="url(#b80)"/>
<rect x="0" y="486" width="1310" height="6" fill="url(#b81)"/>
<rect x="0" y="492" width="1310" height="6" fill="url(#b82)"/>
<rect x="0" y="498" width="1310" height="6" fill="url(#b83)"/>
<rect x="0" y="504" width="1310" height="6" fill="url(#b84)"/>
<rect x="0" y="510" width="1310" height="6" fill="url(#b85)"/>
<rect x="0" y="516" width="1310" height="6" fill="url(#b86)"/>
<rect x="0" y="522" width="1310" height="6" fill="url(#b87)"/>
<rect x="0" y="528" width="1310" height="6" fill="url(#b88)"/>
<rect x="0" y="534" width="1310" height="6" fill="url(#b89)"/>
<rect x="0" y="540" width="1310" height="6" fill="url(#b90)"/>
<rect x="0" y="546" width="1310" height="6" fill="url(#b91)"/>
<rect x="0" y="552" width="1310" height="6" fill="url(#b92)"/>
<rect x="0" y="558" width="1310" height="6" fill="url(#b93)"/>
<rect x="0" y="564" width="1310" height="6" fill="url(#b94)"/>
<rect x="0" y="570" width="1310" height="6" fill="url(#b95)"/>
<rect x="0" y="576" width="1310" height="6" fill="url(#b96)"/>
<rect x="0" y="582" width="1310" height="6" fill="url(#b97)"/>
<rect x="0" y="588" width="1310" height="6" fill="url(#b98)"/>
<rect x="0" y="594" width="1310" height="6" fill="url(#b99)"/>
<rect x="0" y="600" width="1310" height="6" fill="url(#b100)"/>
<rect x="0" y="606" width="1310" height="6" fill="url(#b101)"/>
<rect x="0" y="612" width="1310" height="6" fill="url(#b102)"/>
<rect x="0" y="618" width="1310" height="6" fill="url(#b103)"/>
<rect x="0" y="624" width="1310" height="6" fill="url(#b104)"/>
<rect x="0" y="630" width="1310" height="6" fill="url(#b105)"/>
<rect x="0" y="636" width="1310" height="6" fill="url(#b106)"/>
<rect x="0" y="642" width="1310" height="6" fill="url(#b107)"/>
<rect x="0" y="648" width="1310" height="6" fill="url(#b108)"/>
<rect x="0" y="654" width="1310" height="6" fill="url(#b109)"/>
<rect x="0" y="660" width="1310" height="6" fill="url(#b110)"/>
<rect x="0" y="666" width="1310" height="6" fill="url(#b111)"/>
<rect x="0" y="672" width="1310" height="6" fill="url(#b112)"/>
<rect x="0" y="678" width="1310" height="6" fill="url(#b113)"/>
<rect x="0" y="684" width="1310" height="6" fill="url(#b114)"/>
<rect x="0" y="690" width="1310" height="6" fill="url(#b115)"/>
<rect x="0" y="696" width="1310" height="6" fill="url(#b116)"/>
<rect x="0" y="702" width="1310" height="6" fill="url(#b117)"/>
<rect x="0" y="708" width="1310" height="6" fill="url(#b118)"/>
<rect x="0" y="714" width="1310" height="6" fill="url(#b119)"/>
<rect x="0" y="720" width="1310" height="6" fill="url(#b120)"/>
<rect x="0" y="726" width="1310" height="6" fill="url(#b121)"/>
<rect x="0" y="732" width="1310" height="6" fill="url(#b122)"/>
<rect x="0" y="738" width="1310" height="6" fill="url(#b123)"/>

<rect x="0" y="0" width="1310" height="3" fill="#f6f6f6"/>
<rect x="0" y="3" width="1310" height="0.9" fill="#ffffff"/>
<rect x="23" y="0" width="1" height="2.5" fill="#c0c0c0"/>
<rect x="472" y="0" width="1" height="2.5" fill="#c0c0c0"/>
<rect x="800" y="0" width="1" height="2.5" fill="#c0c0c0"/>
<rect x="1033" y="0" width="1" height="2.5" fill="#c0c0c0"/>
<rect x="1125" y="0" width="1" height="2.5" fill="#c0c0c0"/>
<rect x="1200" y="0" width="1" height="2.5" fill="#c0c0c0"/>
<rect x="1277.5" y="0" width="1" height="3" fill="#555"/>
<rect x="1307" y="4" width="3" height="735" fill="#2a0c34"/>
<line x1="1308" y1="5" x2="1308" y2="739" stroke="#7a7a6c" stroke-width="2" stroke-dasharray="2,2"/>
<circle cx="19.6" cy="24.5" r="14" fill="none" stroke="#77726a" stroke-width="3"/>
<path d="M10.5,24.4 H29 M19.5,16 L11,24.4 L19.5,32.8" fill="none" stroke="#77726a" stroke-width="3"/>
<rect x="169.4" y="17.4" width="426.2" height="68.2" rx="11" ry="11" fill="none" stroke="rgba(15,0,20,0.35)" stroke-width="1.2"/>
<rect x="170.5" y="18.5" width="424" height="66" rx="10" ry="10" fill="rgba(255,255,255,0.12)" stroke="#c257a6" stroke-width="1.2"/>
<rect x="696.4" y="3.6" width="410.2" height="93.0" rx="11" ry="11" fill="none" stroke="rgba(15,0,20,0.35)" stroke-width="1.2"/>
<rect x="697.5" y="4.7" width="408" height="90.8" rx="10" ry="10" fill="rgba(255,255,255,0.12)" stroke="#c257a6" stroke-width="1.2"/>
<rect x="1114.4" y="3.6" width="192.99999999999994" height="95.5" rx="11" ry="11" fill="none" stroke="rgba(15,0,20,0.35)" stroke-width="1.2"/>
<rect x="1115.5" y="4.7" width="190.79999999999995" height="93.3" rx="10" ry="10" fill="rgba(255,255,255,0.12)" stroke="#c257a6" stroke-width="1.2"/>
<rect x="-2.2" y="95.7" width="196.79999999999998" height="117.9" rx="12" ry="12" fill="none" stroke="rgba(15,0,20,0.35)" stroke-width="1.2"/>
<rect x="-1.1" y="96.8" width="194.6" height="115.7" rx="11" ry="11" fill="rgba(255,255,255,0.12)" stroke="#c257a6" stroke-width="1.2"/>
<rect x="205.4" y="95.4" width="189.2" height="118.2" rx="11" ry="11" fill="none" stroke="rgba(15,0,20,0.35)" stroke-width="1.2"/>
<rect x="206.5" y="96.5" width="187" height="116" rx="10" ry="10" fill="rgba(255,255,255,0.12)" stroke="#c257a6" stroke-width="1.2"/>
<rect x="404.4" y="97.4" width="191.2" height="117.2" rx="11" ry="11" fill="none" stroke="rgba(15,0,20,0.35)" stroke-width="1.2"/>
<rect x="405.5" y="98.5" width="189" height="115" rx="10" ry="10" fill="rgba(255,255,255,0.12)" stroke="#c257a6" stroke-width="1.2"/>
<rect x="602.4" y="98.4" width="187.2" height="117.2" rx="11" ry="11" fill="none" stroke="rgba(15,0,20,0.35)" stroke-width="1.2"/>
<rect x="603.5" y="99.5" width="185" height="115" rx="10" ry="10" fill="rgba(255,255,255,0.12)" stroke="#c257a6" stroke-width="1.2"/>
<rect x="798.4" y="98.2" width="508.7" height="320.4" rx="11" ry="11" fill="none" stroke="rgba(15,0,20,0.35)" stroke-width="1.2"/>
<rect x="799.5" y="99.3" width="506.5" height="318.2" rx="10" ry="10" fill="rgba(255,255,255,0.12)" stroke="#c257a6" stroke-width="1.2"/>
<rect x="-2.2" y="232.4" width="439.8" height="251.2" rx="12" ry="12" fill="none" stroke="rgba(15,0,20,0.35)" stroke-width="1.2"/>
<rect x="-1.1" y="233.5" width="437.6" height="249" rx="11" ry="11" fill="rgba(255,255,255,0.12)" stroke="#c257a6" stroke-width="1.2"/>
<rect x="444.4" y="232.4" width="345.2" height="251.2" rx="11" ry="11" fill="none" stroke="rgba(15,0,20,0.35)" stroke-width="1.2"/>
<rect x="445.5" y="233.5" width="343" height="249" rx="10" ry="10" fill="rgba(255,255,255,0.12)" stroke="#c257a6" stroke-width="1.2"/>
<rect x="-2.2" y="495.4" width="439.3" height="245.7" rx="12" ry="12" fill="none" stroke="rgba(15,0,20,0.35)" stroke-width="1.2"/>
<rect x="-1.1" y="496.5" width="437.1" height="243.5" rx="11" ry="11" fill="rgba(255,255,255,0.12)" stroke="#c257a6" stroke-width="1.2"/>
<rect x="444.4" y="495.4" width="345.2" height="245.7" rx="11" ry="11" fill="none" stroke="rgba(15,0,20,0.35)" stroke-width="1.2"/>
<rect x="445.5" y="496.5" width="343" height="243.5" rx="10" ry="10" fill="rgba(255,255,255,0.12)" stroke="#c257a6" stroke-width="1.2"/>
<rect x="798.4" y="427.4" width="508.7" height="313.2" rx="11" ry="11" fill="none" stroke="rgba(15,0,20,0.35)" stroke-width="1.2"/>
<rect x="799.5" y="428.5" width="506.5" height="311" rx="10" ry="10" fill="rgba(255,255,255,0.12)" stroke="#c257a6" stroke-width="1.2"/>
<text x="200.2" y="56.9" font-size="27" fill="#fff" text-anchor="start" font-weight="bold" textLength="364" lengthAdjust="spacingAndGlyphs" stroke="#fff" stroke-width="0.35">Shiva Store Sales Dashboard</text>
<text x="714.5" y="28" font-size="12" fill="#fff" text-anchor="start" font-weight="bold" textLength="52" lengthAdjust="spacingAndGlyphs" stroke="#fff" stroke-width="0.4">Quarter</text>
<rect x="728.5" y="36" width="85" height="48" fill="#fff" stroke="#8a8585" stroke-width="1.2"/>
<text x="771.0" y="65" font-size="14" fill="#252423" text-anchor="middle" font-weight="bold" >Qtr 1</text>
<rect x="816.5" y="36" width="84.5" height="48" fill="#fff" stroke="#8a8585" stroke-width="1.2"/>
<text x="858.75" y="65" font-size="14" fill="#252423" text-anchor="middle" font-weight="bold" >Qtr 2</text>
<rect x="903.5" y="36" width="85" height="48" fill="#fff" stroke="#8a8585" stroke-width="1.2"/>
<text x="946.0" y="65" font-size="14" fill="#252423" text-anchor="middle" font-weight="bold" >Qtr 3</text>
<rect x="991.0" y="36" width="85.5" height="48" fill="#fff" stroke="#8a8585" stroke-width="1.2"/>
<text x="1033.75" y="65" font-size="14" fill="#252423" text-anchor="middle" font-weight="bold" >Qtr 4</text>
<text x="1132.5" y="33" font-size="18" fill="#fff" text-anchor="start" font-weight="bold" textLength="53.5" lengthAdjust="spacingAndGlyphs" stroke="#fff" stroke-width="0.5">State</text>
<path d="M1276.7,22 L1282.8,28 L1288.9,22" fill="none" stroke="#655468" stroke-width="1.4"/>
<rect x="1131" y="47" width="161.5" height="32" fill="none" stroke="#b8b0b8" stroke-width="1.3"/>
<text x="1136" y="71" font-size="18" fill="#fff" text-anchor="start" >All</text>
<path d="M1269.5,59.5 L1278,68 L1286.5,59.5" fill="none" stroke="#fff" stroke-width="2"/>
<text x="96.35" y="163.3" font-size="45" fill="#fff" text-anchor="middle" textLength="98.4" lengthAdjust="spacingAndGlyphs" stroke="#fff" stroke-width="0.7">438K</text>
<text x="96.05" y="192.8" font-size="15" fill="#fff" text-anchor="middle" textLength="114.9" lengthAdjust="spacingAndGlyphs" stroke="#fff" stroke-width="0.3">Sum of Amount</text>
<text x="301" y="162.9" font-size="45" fill="#fff" text-anchor="middle" textLength="96.3" lengthAdjust="spacingAndGlyphs" stroke="#fff" stroke-width="0.7">121K</text>
<text x="299.6" y="192.9" font-size="15" fill="#fff" text-anchor="middle" textLength="166.6" lengthAdjust="spacingAndGlyphs" stroke="#fff" stroke-width="0.3">Sum of AVG. OF VALUE</text>
<text x="500.35" y="164.4" font-size="45" fill="#fff" text-anchor="middle" textLength="74.2" lengthAdjust="spacingAndGlyphs" stroke="#fff" stroke-width="0.7">37K</text>
<text x="500" y="194" font-size="15" fill="#fff" text-anchor="middle" textLength="95.60000000000001" lengthAdjust="spacingAndGlyphs" stroke="#fff" stroke-width="0.3">Sum of Profit</text>
<text x="696.45" y="165.2" font-size="45" fill="#fff" text-anchor="middle" textLength="93.4" lengthAdjust="spacingAndGlyphs" stroke="#fff" stroke-width="0.7">5615</text>
<text x="695.45" y="195.6" font-size="15" fill="#fff" text-anchor="middle" textLength="118.3" lengthAdjust="spacingAndGlyphs" stroke="#fff" stroke-width="0.3">Sum of Quantity</text>
<text x="218" y="254" font-size="16" fill="#fff" text-anchor="middle" font-weight="bold" >Sum of Amount by State</text>
<rect x="115" y="283" width="203" height="24" fill="#118dff"/>
<text x="106" y="299.5" font-size="12" fill="#fff" text-anchor="end" stroke="#fff" stroke-width="0.3">Maharashtra</text>
<rect x="115" y="314.7" width="173" height="24" fill="#1689f2"/>
<text x="106" y="331.2" font-size="12" fill="#fff" text-anchor="end" stroke="#fff" stroke-width="0.3">Madhya Pradesh</text>
<rect x="115" y="346.2" width="76" height="24" fill="#f0071a"/>
<text x="106" y="362.7" font-size="12" fill="#fff" text-anchor="end" stroke="#fff" stroke-width="0.3">Uttar Pradesh</text>
<rect x="115" y="378.3" width="45.599999999999994" height="24" fill="#f0071a"/>
<text x="106" y="394.8" font-size="12" fill="#fff" text-anchor="end" stroke="#fff" stroke-width="0.3">Delhi</text>
<rect x="115" y="409.8" width="44" height="24" fill="#ee1f1f"/>
<text x="106" y="426.3" font-size="12" fill="#fff" text-anchor="end" stroke="#fff" stroke-width="0.3">Rajasthan</text>
<text x="115" y="463" font-size="12" fill="#fff" text-anchor="middle" stroke="#fff" stroke-width="0.3">0.0M</text>
<text x="313" y="463" font-size="12" fill="#fff" text-anchor="middle" stroke="#fff" stroke-width="0.3">0.1M</text>
<text x="617.9" y="254" font-size="16" fill="#fff" text-anchor="middle" font-weight="bold" textLength="257" lengthAdjust="spacingAndGlyphs" >Sum of Quantity by PaymentMode</text>
<path d="M564.00,298.40 A68.6,68.6 0 0 1 589.25,430.78 L579.17,405.31 A41.2,41.2 0 0 0 564.00,325.80 Z" fill="#ec0a1a"/>
<path d="M589.25,430.78 A68.6,68.6 0 0 1 509.80,409.05 L531.45,392.25 A41.2,41.2 0 0 0 579.17,405.31 Z" fill="#118dff"/>
<path d="M509.80,409.05 A68.6,68.6 0 0 1 496.12,357.12 L523.23,361.07 A41.2,41.2 0 0 0 531.45,392.25 Z" fill="#e5c96b"/>
<path d="M496.12,357.12 A68.6,68.6 0 0 1 521.95,312.80 L538.75,334.45 A41.2,41.2 0 0 0 523.23,361.07 Z" fill="#12ef5a"/>
<path d="M521.95,312.80 A68.6,68.6 0 0 1 564.00,298.40 L564.00,325.80 A41.2,41.2 0 0 0 538.75,334.45 Z" fill="#ffffff"/>
<path d="M608,313.8 L612.7,307.4 L625.4,307.4" fill="none" stroke="#6a5568" stroke-width="1"/>
<text x="629" y="304" font-size="13" fill="#fff" text-anchor="start" stroke="#fff" stroke-width="0.3">COD</text>
<text x="629" y="321.5" font-size="13" fill="#fff" text-anchor="start" stroke="#fff" stroke-width="0.3">44%</text>
<path d="M541.5,300.5 L539.1,294.2 L526.8,294.2" fill="none" stroke="#6a5568" stroke-width="1"/>
<text x="511" y="291" font-size="13" fill="#fff" text-anchor="middle" stroke="#fff" stroke-width="0.3">EMI</text>
<text x="510" y="308.5" font-size="13" fill="#fff" text-anchor="middle" stroke="#fff" stroke-width="0.3">10%</text>
<path d="M511.6,320.5 L506.9,316.4 L494,316.4" fill="none" stroke="#6a5568" stroke-width="1"/>
<text x="475" y="313" font-size="13" fill="#fff" text-anchor="middle" stroke="#fff" stroke-width="0.3">Cre...</text>
<text x="477.3" y="330.5" font-size="13" fill="#fff" text-anchor="middle" stroke="#fff" stroke-width="0.3">12%</text>
<path d="M501.7,397.8 L495.5,401.6 L482.7,401.6" fill="none" stroke="#6a5568" stroke-width="1"/>
<text x="479.5" y="398" font-size="13" fill="#fff" text-anchor="end" stroke="#fff" stroke-width="0.3">D...</text>
<text x="479.5" y="415.5" font-size="13" fill="#fff" text-anchor="end" stroke="#fff" stroke-width="0.3">1...</text>
<path d="M546.7,433.5 L544.8,441.6 L532.5,441.6" fill="none" stroke="#6a5568" stroke-width="1"/>
<text x="503" y="446" font-size="13" fill="#fff" text-anchor="middle" stroke="#fff" stroke-width="0.3">UPI 21%</text>
<text x="673.5" y="307.6" font-size="12.5" fill="#fff" text-anchor="start" font-weight="bold" textLength="93.5" lengthAdjust="spacingAndGlyphs" stroke="#fff" stroke-width="0.35">PaymentMode</text>
<circle cx="679.3" cy="324.9" r="4.8" fill="#ec0a1a"/>
<text x="687" y="329.9" font-size="13" fill="#fff" text-anchor="start" stroke="#fff" stroke-width="0.3">COD</text>
<circle cx="679.3" cy="350.9" r="4.8" fill="#118dff"/>
<text x="687" y="355.9" font-size="13" fill="#fff" text-anchor="start" stroke="#fff" stroke-width="0.3">UPI</text>
<circle cx="679.3" cy="376.9" r="4.8" fill="#e5c96b"/>
<text x="687" y="381.9" font-size="13" fill="#fff" text-anchor="start" textLength="65" lengthAdjust="spacingAndGlyphs" stroke="#fff" stroke-width="0.3">Debit Card</text>
<circle cx="679.3" cy="402.9" r="4.8" fill="#12ef5a"/>
<text x="687" y="407.9" font-size="13" fill="#fff" text-anchor="start" textLength="68" lengthAdjust="spacingAndGlyphs" stroke="#fff" stroke-width="0.3">Credit Card</text>
<circle cx="679.3" cy="428.9" r="4.8" fill="#ffffff"/>
<text x="687" y="433.9" font-size="13" fill="#fff" text-anchor="start" stroke="#fff" stroke-width="0.3">EMI</text>
<text x="1054.5" y="119.6" font-size="16" fill="#fff" text-anchor="middle" font-weight="bold" >Profit by Month</text>
<text x="830" y="141.40000000000003" font-size="12" fill="#fff" text-anchor="end" stroke="#fff" stroke-width="0.3">15K</text>
<text x="830" y="192.8" font-size="12" fill="#fff" text-anchor="end" stroke="#fff" stroke-width="0.3">10K</text>
<text x="830" y="244.20000000000002" font-size="12" fill="#fff" text-anchor="end" stroke="#fff" stroke-width="0.3">5K</text>
<text x="830" y="295.6" font-size="12" fill="#fff" text-anchor="end" stroke="#fff" stroke-width="0.3">0K</text>
<text x="830" y="347.0" font-size="12" fill="#fff" text-anchor="end" stroke="#fff" stroke-width="0.3">-5K</text>
<rect x="854.10" y="192.1" width="28.9" height="99.20" fill="#118dff"/>
<text x="863.6" y="355" font-size="12" fill="#fff" stroke="#fff" stroke-width="0.3" text-anchor="end" transform="rotate(-36 863.6 355)">January</text>
<rect x="890.38" y="204.6" width="28.9" height="86.70" fill="#118dff"/>
<text x="899.9" y="355" font-size="12" fill="#fff" stroke="#fff" stroke-width="0.3" text-anchor="end" transform="rotate(-36 899.9 355)">February</text>
<rect x="926.66" y="211.5" width="28.9" height="79.80" fill="#118dff"/>
<text x="936.2" y="355" font-size="12" fill="#fff" stroke="#fff" stroke-width="0.3" text-anchor="end" transform="rotate(-36 936.2 355)">March</text>
<rect x="962.94" y="248.1" width="28.9" height="43.20" fill="#118dff"/>
<text x="972.4" y="355" font-size="12" fill="#fff" stroke="#fff" stroke-width="0.3" text-anchor="end" transform="rotate(-36 972.4 355)">April</text>
<rect x="999.22" y="291.3" width="28.9" height="38.30" fill="#d64550"/>
<text x="1008.7" y="355" font-size="12" fill="#fff" stroke="#fff" stroke-width="0.3" text-anchor="end" transform="rotate(-36 1008.7 355)">May</text>
<rect x="1035.50" y="286.9" width="28.9" height="4.40" fill="#118dff"/>
<text x="1045.0" y="355" font-size="12" fill="#fff" stroke="#fff" stroke-width="0.3" text-anchor="end" transform="rotate(-36 1045.0 355)">June</text>
<rect x="1071.78" y="291.3" width="28.9" height="22.00" fill="#d64550"/>
<text x="1081.3" y="355" font-size="12" fill="#fff" stroke="#fff" stroke-width="0.3" text-anchor="end" transform="rotate(-36 1081.3 355)">July</text>
<rect x="1108.06" y="270" width="28.9" height="21.30" fill="#118dff"/>
<text x="1117.6" y="355" font-size="12" fill="#fff" stroke="#fff" stroke-width="0.3" text-anchor="end" transform="rotate(-36 1117.6 355)">August</text>
<rect x="1144.34" y="291.3" width="28.9" height="14.70" fill="#d64550"/>
<text x="1153.8" y="355" font-size="12" fill="#fff" stroke="#fff" stroke-width="0.3" text-anchor="end" transform="rotate(-36 1153.8 355)">September</text>
<rect x="1180.62" y="260.9" width="28.9" height="30.40" fill="#118dff"/>
<text x="1190.1" y="355" font-size="12" fill="#fff" stroke="#fff" stroke-width="0.3" text-anchor="end" transform="rotate(-36 1190.1 355)">October</text>
<rect x="1216.90" y="185.8" width="28.9" height="105.50" fill="#118dff"/>
<text x="1226.4" y="355" font-size="12" fill="#fff" stroke="#fff" stroke-width="0.3" text-anchor="end" transform="rotate(-36 1226.4 355)">November</text>
<rect x="1253.18" y="291.3" width="28.9" height="16.40" fill="#d64550"/>
<text x="1262.7" y="355" font-size="12" fill="#fff" stroke="#fff" stroke-width="0.3" text-anchor="end" transform="rotate(-36 1262.7 355)">December</text>
<text x="218" y="518" font-size="16" fill="#fff" text-anchor="middle" font-weight="bold" >Sum of Amount by CustomerName</text>
<text x="30" y="539.8" font-size="12" fill="#fff" text-anchor="end" stroke="#fff" stroke-width="0.3">10K</text>
<text x="30" y="613.4" font-size="12" fill="#fff" text-anchor="end" stroke="#fff" stroke-width="0.3">5K</text>
<text x="30" y="687.0" font-size="12" fill="#fff" text-anchor="end" stroke="#fff" stroke-width="0.3">0K</text>
<rect x="67" y="536.5" width="53.4" height="146.20" fill="#f5001a"/>
<text x="93.7" y="707" font-size="12" fill="#fff" text-anchor="middle" stroke="#fff" stroke-width="0.3">Harivansh</text>
<rect x="136.1" y="544.2" width="53.4" height="138.50" fill="#118dff"/>
<text x="162.79999999999998" y="707" font-size="12" fill="#fff" text-anchor="middle" stroke="#fff" stroke-width="0.3">Madhav</text>
<rect x="205" y="567.9" width="53.4" height="114.80" fill="#de6a72"/>
<text x="231.7" y="707" font-size="12" fill="#fff" text-anchor="middle" stroke="#fff" stroke-width="0.3">Madan</text>
<rect x="274" y="589.1" width="53.4" height="93.60" fill="#ffffff"/>
<text x="300.7" y="707" font-size="12" fill="#fff" text-anchor="middle" stroke="#fff" stroke-width="0.3">Shiva</text>
<rect x="343" y="592.2" width="53.4" height="90.50" fill="#00ff62"/>
<text x="369.7" y="707" font-size="12" fill="#fff" text-anchor="middle" stroke="#fff" stroke-width="0.3">Vishakha</text>
<text x="231.7" y="723" font-size="12" fill="#fff" text-anchor="middle" stroke="#fff" stroke-width="0.3">Mohan</text>
<text x="617.8" y="518" font-size="16" fill="#fff" text-anchor="middle" font-weight="bold" textLength="217.5" lengthAdjust="spacingAndGlyphs" >Sum of Quantity by Category</text>
<path d="M573.40,558.20 A69.6,69.6 0 1 1 523.27,676.08 L543.36,656.73 A41.7,41.7 0 1 0 573.40,586.10 Z" fill="#118dff"/>
<path d="M523.27,676.08 A69.6,69.6 0 0 1 512.62,593.89 L536.98,607.48 A41.7,41.7 0 0 0 543.36,656.73 Z" fill="#eb0a1a"/>
<path d="M512.62,593.89 A69.6,69.6 0 0 1 573.40,558.20 L573.40,586.10 A41.7,41.7 0 0 0 536.98,607.48 Z" fill="#0ed95f"/>
<path d="M537.4,566.5 L533,559.8 L521.3,559.8" fill="none" stroke="#6a5568" stroke-width="1"/>
<text x="463" y="556.8" font-size="13" fill="#fff" text-anchor="start" textLength="55.5" lengthAdjust="spacingAndGlyphs" stroke="#fff" stroke-width="0.3">Furniture</text>
<text x="517.5" y="574.5" font-size="13" fill="#fff" text-anchor="end" stroke="#fff" stroke-width="0.3">17%</text>
<path d="M508,659 L503,663 L490,663" fill="none" stroke="#6a5568" stroke-width="1"/>
<text x="459" y="659.3" font-size="13" fill="#fff" text-anchor="start" stroke="#fff" stroke-width="0.3">Ele...</text>
<text x="460.3" y="676.5" font-size="13" fill="#fff" text-anchor="start" stroke="#fff" stroke-width="0.3">21%</text>
<path d="M586.5,697 L588,705 L601,705" fill="none" stroke="#6a5568" stroke-width="1"/>
<text x="604" y="701.5" font-size="13" fill="#fff" text-anchor="start" textLength="52" lengthAdjust="spacingAndGlyphs" stroke="#fff" stroke-width="0.3">Clothing</text>
<text x="604.5" y="718.5" font-size="13" fill="#fff" text-anchor="start" stroke="#fff" stroke-width="0.3">63%</text>
<text x="691.2" y="595" font-size="12.5" fill="#fff" text-anchor="start" font-weight="bold" textLength="58.5" lengthAdjust="spacingAndGlyphs" stroke="#fff" stroke-width="0.35">Category</text>
<circle cx="697.3" cy="611.1" r="4.9" fill="#118dff"/>
<text x="704.8" y="616.1" font-size="13" fill="#fff" text-anchor="start" textLength="52.5" lengthAdjust="spacingAndGlyphs" stroke="#fff" stroke-width="0.3">Clothing</text>
<circle cx="697.3" cy="637.4" r="4.9" fill="#eb0a1a"/>
<text x="704.8" y="642.4" font-size="13" fill="#fff" text-anchor="start" textLength="65" lengthAdjust="spacingAndGlyphs" stroke="#fff" stroke-width="0.3">Electronics</text>
<circle cx="697.3" cy="663.7" r="4.9" fill="#12d95f"/>
<text x="704.8" y="668.7" font-size="13" fill="#fff" text-anchor="start" textLength="55.5" lengthAdjust="spacingAndGlyphs" stroke="#fff" stroke-width="0.3">Furniture</text>
<text x="1053" y="449" font-size="16" fill="#fff" text-anchor="middle" font-weight="bold" >Sum of Profit by Sub-Category</text>
<rect x="885.4" y="482.5" width="345.6" height="33" fill="#118dff"/>
<text x="876" y="503.5" font-size="12" fill="#fff" text-anchor="end" stroke="#fff" stroke-width="0.3">Printers</text>
<rect x="885.4" y="525.2" width="261.6" height="33" fill="#0edc5f"/>
<text x="876" y="546.2" font-size="12" fill="#fff" text-anchor="end" stroke="#fff" stroke-width="0.3">Bookcases</text>
<rect x="885.4" y="568" width="163.0" height="33" fill="#e2661f"/>
<text x="876" y="589" font-size="12" fill="#fff" text-anchor="end" stroke="#fff" stroke-width="0.3">Saree</text>
<rect x="885.4" y="610.9" width="134.6" height="33" fill="#eb0a1a"/>
<text x="876" y="631.9" font-size="12" fill="#fff" text-anchor="end" stroke="#fff" stroke-width="0.3">Accessories</text>
<rect x="885.4" y="653.8" width="126.1" height="33" fill="#e45fb4"/>
<text x="876" y="674.8" font-size="12" fill="#fff" text-anchor="end" stroke="#fff" stroke-width="0.3">Tables</text>
<text x="886" y="720" font-size="12" fill="#fff" text-anchor="middle" stroke="#fff" stroke-width="0.3">0K</text>
<text x="1087" y="720" font-size="12" fill="#fff" text-anchor="middle" stroke="#fff" stroke-width="0.3">5K</text>
<text x="1287.5" y="720" font-size="12" fill="#fff" text-anchor="middle" stroke="#fff" stroke-width="0.3">10K</text>
</svg></body></html>
